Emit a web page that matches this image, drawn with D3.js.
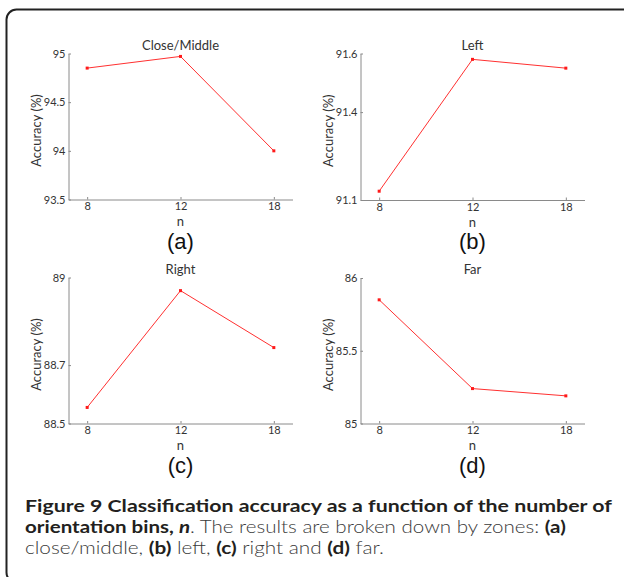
<!DOCTYPE html>
<html>
<head>
<meta charset="utf-8">
<script src="https://cdn.jsdelivr.net/npm/d3@7"></script>
<style>
  html, body { margin: 0; padding: 0; background: #fff; }
  svg { display: block; }
</style>
</head>
<body>
<svg id="chart" width="624" height="577"></svg>
<script>
// ---- data ----
const categories = ["8", "12", "18"];
const titles = ["Close/Middle", "Left", "Right", "Far"];
const panelLabels = ["(a)", "(b)", "(c)", "(d)"];
const valuesA = [94.85, 94.97, 94.0];
const valuesB = [91.13, 91.58, 91.55];
const valuesC = [88.555, 88.955, 88.76];
const valuesD = [85.85, 85.24, 85.19];
const domainA = [93.5, 95];
const domainB = [91.1, 91.6];
const domainC = [88.5, 89];
const domainD = [85, 86];
const ticksA = [93.5, 94, 94.5, 95];
const ticksB = [91.1, 91.4, 91.6];
const ticksC = [88.5, 88.7, 89];
const ticksD = [85, 85.5, 86];
const xLabel = "n";
const yLabel = "Accuracy (%)";

const svg = d3.select("#chart");

// frame
svg.append("rect")
  .attr("x", 6.5).attr("y", 9.5)
  .attr("width", 640).attr("height", 573)
  .attr("rx", 10).attr("ry", 10)
  .attr("fill", "none").attr("stroke", "#222").attr("stroke-width", 2);

const panels = [
  { values: valuesA, domain: domainA, ticks: ticksA, x0: 68.5, y0: 53.5, w: 224, h: 146 },
  { values: valuesB, domain: domainB, ticks: ticksB, x0: 360.5, y0: 53.5, w: 224, h: 146.5 },
  { values: valuesC, domain: domainC, ticks: ticksC, x0: 68.5, y0: 277.5, w: 224, h: 146 },
  { values: valuesD, domain: domainD, ticks: ticksD, x0: 360.5, y0: 278, w: 224, h: 145.5 }
];

const fmt = d3.format("");
const chartFont = "Lato, 'Open Sans', sans-serif";

panels.forEach((p, i) => {
  const x = d3.scalePoint().domain(categories).range([p.x0, p.x0 + p.w]).padding(0.2);
  const y = d3.scaleLinear().domain(p.domain).range([p.y0 + p.h, p.y0]);
  const g = svg.append("g");

  const ax = g.append("g")
    .attr("transform", `translate(0,${p.y0 + p.h})`)
    .call(d3.axisBottom(x).tickSizeInner(-2.5).tickSizeOuter(0).tickPadding(3));
  const ay = g.append("g")
    .attr("transform", `translate(${p.x0},0)`)
    .call(d3.axisLeft(y).tickValues(p.ticks).tickFormat(fmt).tickSizeInner(-2.5).tickSizeOuter(0).tickPadding(3));

  [ax, ay].forEach(a => {
    a.select(".domain").attr("stroke", "#8a8a8a");
    a.selectAll(".tick line").attr("stroke", "#8a8a8a");
    a.selectAll(".tick text").attr("fill", "#333").attr("font-size", 11)
      .attr("font-family", chartFont);
  });

  const line = d3.line().x((d, j) => x(categories[j])).y(d => y(d));
  g.append("path").datum(p.values)
    .attr("d", line)
    .attr("fill", "none").attr("stroke", "#ff3030").attr("stroke-width", 1);
  g.selectAll(".pt").data(p.values).enter().append("rect")
    .attr("x", (d, j) => x(categories[j]) - 1.5)
    .attr("y", d => y(d) - 1.5)
    .attr("width", 3).attr("height", 3)
    .attr("fill", "#ff1a1a");

  const cx = p.x0 + p.w / 2;
  g.append("text").text(titles[i])
    .attr("x", cx).attr("y", p.y0 - 4)
    .attr("text-anchor", "middle").attr("font-size", 13)
    .attr("font-family", chartFont).attr("fill", "#333");
  g.append("text").text(xLabel)
    .attr("x", cx).attr("y", p.y0 + p.h + 26.5)
    .attr("text-anchor", "middle").attr("font-size", 13)
    .attr("font-family", chartFont).attr("fill", "#333");
  g.append("text").text(panelLabels[i])
    .attr("x", cx).attr("y", p.y0 + p.h + 49.2)
    .attr("text-anchor", "middle").attr("font-size", 22)
    .attr("font-family", "'Liberation Sans', Arial, sans-serif").attr("fill", "#111");
  g.append("text").text(yLabel)
    .attr("transform", `translate(${p.x0 - 28},${p.y0 + p.h / 2 + 4}) rotate(-90)`)
    .attr("text-anchor", "middle").attr("font-size", 13)
    .attr("font-family", chartFont).attr("fill", "#333");
});

// caption
const capFont = "Lato, 'Open Sans', sans-serif";
const captionLines = [
  { y: 511.7, len: 587, parts: [["Figure 9 Classification accuracy as a function of the number of", "b"]] },
  { y: 533, len: 541, parts: [["orientation bins, ", "b"], ["n", "bi"], [". The results are broken down by zones: ", "r"], ["(a)", "b"]] },
  { y: 554.2, len: 359, parts: [["close/middle, ", "r"], ["(b)", "b"], [" left, ", "r"], ["(c)", "b"], [" right and ", "r"], ["(d)", "b"], [" far.", "r"]] }
];
captionLines.forEach(l => {
  const t = svg.append("text")
    .attr("x", 0).attr("y", 0)
    .attr("font-size", 17.5).attr("font-family", capFont);
  l.parts.forEach(([s, st]) => {
    t.append("tspan").text(s)
      .attr("font-weight", st[0] === "b" ? 700 : 300)
      .attr("font-style", st === "bi" ? "italic" : "normal")
      .attr("fill", st[0] === "b" ? "#231f20" : "#3a3a3a");
  });
  const w = t.node().getComputedTextLength();
  t.attr("transform", `translate(25,${l.y}) scale(${l.len / w},1)`);
});
</script>
</body>
</html>
